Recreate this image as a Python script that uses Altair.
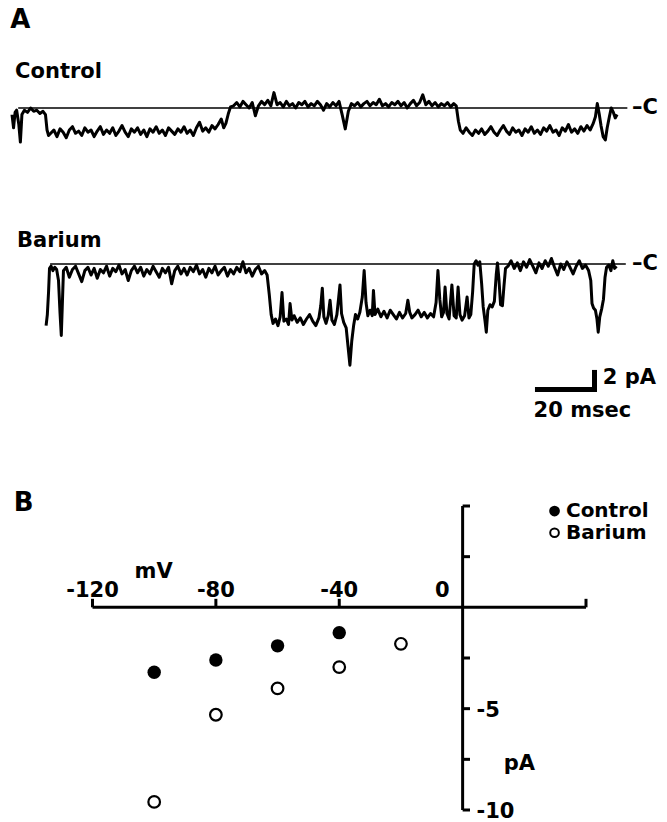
import altair as alt
import pandas as pd

FONT = "DejaVu Sans"

# ---------------- Panel A: single-channel current traces (time ms, current pA) -------------
control_trace = [
    (0.0, -0.6), (0.5, -1.8), (1.0, -0.4), (1.5, -0.2), (2.2, -1.5), (2.7, -3.1), (3.2, -0.6),
    (4.0, -0.2), (5.0, -0.4), (6.0, 0.0), (7.0, -0.3), (8.0, -0.2), (9.0, -0.5), (10.0, -0.3),
    (10.8, -0.6), (11.3, -2.0), (11.8, -2.5),
    (12.5, -2.3), (13.5, -2.0), (14.5, -2.6), (15.5, -1.9), (16.5, -2.2), (17.5, -2.7), (18.5, -2.0),
    (19.5, -1.7), (20.5, -2.3), (21.5, -2.1), (22.5, -2.5), (23.5, -1.8), (24.5, -2.2), (25.5, -2.0),
    (26.5, -2.6), (27.5, -2.1), (28.5, -1.7), (29.5, -2.4), (30.5, -2.0), (31.5, -2.3), (32.5, -1.8),
    (33.5, -2.5), (34.5, -2.1), (35.5, -1.6), (36.5, -2.2), (37.5, -2.6), (38.5, -1.9), (39.5, -2.2),
    (40.5, -1.8), (41.5, -2.4), (42.5, -2.0), (43.5, -2.6), (44.5, -1.9), (45.5, -2.2), (46.5, -1.7),
    (47.5, -2.3), (48.5, -2.0), (49.5, -2.5), (50.5, -1.8), (51.5, -2.1), (52.5, -2.4), (53.5, -1.9),
    (54.5, -2.2), (55.5, -1.7), (56.5, -2.3), (57.5, -2.0), (58.5, -2.5), (59.5, -1.8), (60.5, -1.3),
    (61.5, -2.1), (62.5, -1.8), (63.5, -2.2), (64.5, -1.6), (65.5, -1.9), (66.5, -1.5), (67.5, -1.0),
    (68.3, -1.8), (69.0, -1.4), (69.8, -0.5), (70.5, 0.1),
    (71.5, 0.2), (72.5, 0.5), (73.5, 0.1), (74.5, 0.6), (75.5, 0.3), (76.5, 0.0), (77.5, 0.5),
    (78.5, -0.7), (79.5, 0.2), (80.5, 0.6), (81.5, 0.3), (82.5, 0.7), (83.5, 0.2), (84.5, 1.4),
    (85.5, 0.3), (86.5, 0.5), (87.5, 0.1), (88.5, 0.6), (89.5, 0.2), (90.5, 0.4), (91.5, 0.0),
    (92.5, 0.5), (93.5, 0.3), (94.5, 0.6), (95.5, 0.1), (96.5, 0.4), (97.5, 0.2), (98.5, 0.6),
    (99.5, 0.3), (100.5, -0.2), (101.5, 0.4), (102.5, 0.1), (103.5, 0.5), (104.5, 0.2), (105.5, 0.6),
    (106.5, -0.6), (107.5, -1.9), (108.5, -0.3), (109.5, 0.4), (110.5, 0.2), (111.5, 0.5), (112.5, 0.1),
    (113.5, 0.4), (114.5, 0.6), (115.5, 0.2), (116.5, 0.5), (117.5, 0.3), (118.5, 0.8), (119.5, 0.2),
    (120.5, 0.4), (121.5, 0.1), (122.5, 0.5), (123.5, 0.3), (124.5, 0.6), (125.5, 0.2), (126.5, 0.5),
    (127.5, 0.0), (128.5, 0.4), (129.5, 0.7), (130.5, 0.2), (131.5, 0.5), (132.5, 1.2), (133.5, 0.3),
    (134.5, 0.6), (135.5, 0.2), (136.5, 0.5), (137.5, 0.1), (138.5, 0.4), (139.5, 0.2), (140.5, 0.5),
    (141.5, 0.1), (142.5, 0.4), (143.3, 0.2), (144.0, -1.2), (144.6, -2.0),
    (145.5, -2.3), (146.5, -1.8), (147.5, -2.2), (148.5, -2.5), (149.5, -2.0), (150.5, -2.3),
    (151.5, -1.9), (152.5, -2.4), (153.5, -2.1), (154.5, -1.7), (155.5, -2.2), (156.5, -2.5),
    (157.5, -2.0), (158.5, -1.6), (159.5, -2.1), (160.5, -2.4), (161.5, -1.8), (162.5, -2.2),
    (163.5, -2.0), (164.5, -2.5), (165.5, -1.9), (166.5, -2.2), (167.5, -1.7), (168.5, -2.3),
    (169.5, -2.0), (170.5, -2.4), (171.5, -1.8), (172.5, -2.1), (173.5, -1.6), (174.5, -2.2),
    (175.5, -2.0), (176.5, -2.5), (177.5, -1.8), (178.5, -2.1), (179.5, -1.5), (180.5, -2.2),
    (181.5, -1.9), (182.5, -2.3), (183.5, -1.7), (184.5, -2.1), (185.5, -1.6), (186.5, -2.0),
    (187.5, -1.4), (188.2, -0.8), (188.8, 0.4), (189.4, -0.5), (190.0, -1.6), (190.7, -2.6),
    (191.4, -2.9), (192.0, -1.8), (192.7, -0.8), (193.3, 0.0), (194.0, -0.4), (194.6, -0.9),
    (195.2, -0.6),
]

barium_trace = [
    (11.0, -5.6), (11.4, -4.6), (11.8, -2.5), (12.1, -0.4), (12.6, -0.2), (13.2, -0.6), (13.8, -0.3),
    (14.4, -0.5), (15.0, -1.5), (15.5, -4.5), (15.9, -6.5), (16.2, -4.0), (16.6, -0.6),
    (17.5, -0.3), (18.5, -1.2), (19.5, -0.5), (20.5, -0.2), (21.5, -0.9), (22.5, -1.6), (23.5, -0.6),
    (24.5, -0.3), (25.5, -1.0), (26.5, -0.4), (27.5, -1.3), (28.5, -0.5), (29.5, -0.8), (30.5, -0.2),
    (31.5, -1.1), (32.5, -0.4), (33.5, -0.7), (34.5, -0.1), (35.5, -0.9), (36.5, -0.5), (37.5, -1.5),
    (38.5, -0.6), (39.5, -0.2), (40.5, -0.8), (41.5, -0.3), (42.5, -1.1), (43.5, -0.5), (44.5, -0.9),
    (45.5, -0.2), (46.5, -0.7), (47.5, -1.2), (48.5, -0.4), (49.5, -0.8), (50.5, -0.3), (51.5, -1.8),
    (52.5, -0.6), (53.5, -0.2), (54.5, -0.9), (55.5, -0.4), (56.5, -1.0), (57.5, -0.3), (58.5, -0.7),
    (59.5, -0.1), (60.5, -0.9), (61.5, -0.5), (62.5, -1.2), (63.5, -0.4), (64.5, -0.8), (65.5, -0.2),
    (66.5, -1.0), (67.5, -0.6), (68.5, -0.3), (69.5, -1.1), (70.5, -0.5), (71.5, -0.9), (72.5, -0.3),
    (73.5, -0.7), (74.5, 0.2), (75.5, -0.8), (76.5, -0.4), (77.5, -1.1), (78.5, -0.5), (79.5, -0.2),
    (80.5, -0.9), (81.5, -0.6), (82.3, -1.0), (83.0, -2.8), (83.6, -4.6), (84.2, -5.4),
    (85.0, -5.0), (85.8, -5.6), (86.5, -4.8), (87.1, -2.6), (87.7, -5.2), (88.5, -5.0), (89.2, -5.5),
    (89.7, -3.6), (90.3, -5.1), (91.0, -4.7), (92.0, -5.3), (93.0, -4.9), (94.0, -5.5), (95.0, -5.0),
    (96.0, -4.6), (97.0, -5.2), (98.0, -5.6), (99.0, -4.9), (99.6, -3.8), (100.1, -2.2), (100.6, -4.8),
    (101.3, -5.4), (102.0, -4.7), (102.6, -3.3), (103.2, -5.1), (104.0, -5.5), (104.8, -4.6),
    (105.4, -3.0), (105.8, -1.9), (106.3, -4.5), (107.0, -5.3), (107.8, -5.8), (108.4, -7.5),
    (109.0, -9.2), (109.6, -7.0), (110.2, -5.6), (110.8, -4.6), (111.5, -5.0), (112.2, -4.4),
    (113.0, -3.0), (113.6, -0.6), (114.2, -3.5), (114.8, -4.7), (115.5, -4.2), (116.2, -4.7),
    (116.6, -2.4), (117.1, -4.6), (118.0, -4.1), (119.0, -4.8), (120.0, -4.3), (121.0, -4.9),
    (122.0, -4.2), (123.0, -4.6), (124.0, -5.0), (125.0, -4.4), (126.0, -4.9), (127.0, -4.5),
    (127.7, -3.3), (128.3, -4.4), (129.0, -4.9), (130.0, -4.6), (131.0, -4.2), (132.0, -4.8),
    (133.0, -4.4), (134.0, -4.9), (135.0, -4.5), (136.0, -4.8), (136.8, -3.5), (137.4, -0.6),
    (138.0, -3.2), (138.6, -4.8), (139.2, -4.4), (139.7, -2.1), (140.3, -4.5), (141.0, -5.0),
    (141.9, -1.9), (142.6, -4.7), (143.3, -4.9), (143.9, -2.1), (144.5, -4.6), (145.2, -5.1),
    (146.0, -4.7), (146.8, -3.0), (147.4, -4.9), (148.0, -4.6),
    (148.6, -2.5), (149.1, 0.0), (149.7, 0.3), (150.3, -0.1), (150.9, 0.2), (151.5, -1.8),
    (152.0, -3.9), (152.6, -5.2), (153.0, -6.2), (153.5, -4.2), (154.2, -3.7), (154.9, -3.9),
    (155.6, -3.4), (156.2, -1.0), (156.6, 0.1), (157.1, -1.5), (157.6, -3.7), (158.2, -3.8),
    (158.7, -2.0), (159.2, -0.4),
    (160.0, -0.2), (161.0, 0.3), (162.0, -0.4), (163.0, 0.1), (164.0, -0.6), (165.0, 0.2),
    (166.0, -0.3), (167.0, 0.4), (168.0, -0.2), (169.0, -0.8), (170.0, 0.1), (171.0, -0.4),
    (172.0, 0.3), (173.0, -0.2), (174.0, 0.5), (175.0, -0.3), (176.0, -1.0), (177.0, 0.0),
    (178.0, -0.5), (179.0, 0.2), (180.0, -0.3), (181.0, -0.9), (182.0, -0.2), (183.0, 0.3),
    (184.0, -0.4), (185.0, -0.1), (186.0, -0.6), (186.7, -1.5),
    (187.1, -3.6), (187.6, -4.0), (188.2, -4.2), (188.7, -5.0), (189.1, -6.2), (189.6, -4.8),
    (190.2, -4.1), (190.8, -3.2), (191.3, -1.2), (191.8, -0.3), (192.5, -0.1), (193.2, -0.6),
    (193.8, 0.3), (194.4, -0.4), (195.0, -0.2),
]

# closed-level (C) reference lines, ms
control_closed_span = [2.0, 198.5]
barium_closed_span = [12.3, 198.0]

# scale bars: 20 msec, 2 pA
scalebar_ms = 20
scalebar_pa = 2

# ---------------- Panel B: I-V relation ----------------
iv_control_mv = [-100, -80, -60, -40]
iv_control_pa = [-3.2, -2.6, -1.9, -1.25]
iv_barium_mv = [-100, -80, -60, -40, -20]
iv_barium_pa = [-9.6, -5.3, -4.0, -2.95, -1.8]

x_tick_labels = [-120, -80, -40]
x_tick_marks = [-120, -80, -40, 40]
y_tick_marks = [5, 2.5, -2.5, -5, -7.5, -10]
y_tick_labels = [-5, -10]

# ---------------- scales ----------------
def lin(domain, rng):
    return alt.Scale(domain=domain, range=rng, nice=False, zero=False)

t_scale = lin([0, 200], [12, 632])
ctrl_scale = lin([0, -5], [108, 163])
ba_scale = lin([0, -5], [264, 319])
mv_scale = lin([-120, 40], [92.5, 586])
pa_scale = lin([5, -10], [506, 810])

BLACK = "#000000"


def enc(xf, yf, xs, ys, **extra):
    return dict(x=alt.X(xf, type="quantitative", scale=xs, axis=None),
                y=alt.Y(yf, type="quantitative", scale=ys, axis=None), **extra)


def text_layer(x, y, label, xs, ys, size=21, align="left", baseline="alphabetic"):
    df = pd.DataFrame({"x": [x], "y": [y], "label": [label]})
    return alt.Chart(df).mark_text(font=FONT, fontWeight="bold", fontSize=size, align=align,
                                   baseline=baseline, color=BLACK).encode(
        **enc("x", "y", xs, ys), text="label:N")


def trace_layer(trace, ys):
    df = pd.DataFrame(trace, columns=["t", "i"])
    return alt.Chart(df).mark_line(color=BLACK, strokeWidth=3, strokeJoin="round").encode(
        **enc("t", "i", t_scale, ys))


def hrule(x1, x2, y, xs, ys, width):
    df = pd.DataFrame({"x": [x1], "x2": [x2], "y": [y]})
    return alt.Chart(df).mark_rule(color=BLACK, strokeWidth=width).encode(
        **enc("x", "y", xs, ys), x2="x2")


def vrule(x, y1, y2, xs, ys, width):
    df = pd.DataFrame({"x": [x], "y": [y1], "y2": [y2]})
    return alt.Chart(df).mark_rule(color=BLACK, strokeWidth=width).encode(
        **enc("x", "y", xs, ys), y2="y2")


layers = []

# Panel A
layers.append(text_layer(-0.6, 7.3, "A", t_scale, ctrl_scale, size=26))
layers.append(text_layer(1.0, 2.73, "Control", t_scale, ctrl_scale))
layers.append(hrule(control_closed_span[0], control_closed_span[1], 0, t_scale, ctrl_scale, 1.6))
layers.append(trace_layer(control_trace, ctrl_scale))
layers.append(text_layer(200, 0, "–C", t_scale, ctrl_scale, baseline="middle"))

layers.append(text_layer(1.6, 1.55, "Barium", t_scale, ba_scale))
layers.append(hrule(barium_closed_span[0], barium_closed_span[1], 0, t_scale, ba_scale, 1.6))
layers.append(trace_layer(barium_trace, ba_scale))
layers.append(text_layer(200, 0, "–C", t_scale, ba_scale, baseline="middle"))

# scale bars
sb_t_end = 188.7
sb_i = -11.4
layers.append(hrule(sb_t_end - scalebar_ms, sb_t_end, sb_i, t_scale, ba_scale, 5))
layers.append(vrule(sb_t_end - 0.8, sb_i - 0.23, sb_i - 0.23 + scalebar_pa, t_scale, ba_scale, 5))
layers.append(text_layer(190.6, -10.4, "2 pA", t_scale, ba_scale, baseline="middle"))
layers.append(text_layer(184.0, -13.9, "20 msec", t_scale, ba_scale, align="center"))

# Panel B
layers.append(text_layer(-145.5, 4.75, "B", mv_scale, pa_scale, size=26))
# axes
layers.append(hrule(-120, 40, 0, mv_scale, pa_scale, 3))
layers.append(vrule(0, 5, -10, mv_scale, pa_scale, 3))
xt = pd.DataFrame({"mv": x_tick_marks, "p0": [0.0] * len(x_tick_marks), "p1": [0.42] * len(x_tick_marks)})
layers.append(alt.Chart(xt).mark_rule(color=BLACK, strokeWidth=3).encode(
    **enc("mv", "p0", mv_scale, pa_scale), y2="p1"))
yt = pd.DataFrame({"m0": [0.0] * len(y_tick_marks), "m1": [2.4] * len(y_tick_marks), "pa": y_tick_marks})
layers.append(alt.Chart(yt).mark_rule(color=BLACK, strokeWidth=3).encode(
    **enc("m0", "pa", mv_scale, pa_scale), x2="m1"))
xl = pd.DataFrame({"mv": x_tick_labels, "pa": [0.5] * len(x_tick_labels),
                   "label": [str(v) for v in x_tick_labels]})
layers.append(alt.Chart(xl).mark_text(font=FONT, fontWeight="bold", fontSize=21, align="center",
                                      baseline="alphabetic", color=BLACK).encode(
    **enc("mv", "pa", mv_scale, pa_scale), text="label:N"))
layers.append(text_layer(-4.2, 0.5, "0", mv_scale, pa_scale, align="right"))
layers.append(text_layer(-100.2, 1.45, "mV", mv_scale, pa_scale, align="center"))
yl = pd.DataFrame({"mv": [4.5] * len(y_tick_labels), "pa": [v - 0.1 for v in y_tick_labels],
                   "label": [str(v) for v in y_tick_labels]})
layers.append(alt.Chart(yl).mark_text(font=FONT, fontWeight="bold", fontSize=21, align="left",
                                      baseline="middle", color=BLACK).encode(
    **enc("mv", "pa", mv_scale, pa_scale), text="label:N"))
layers.append(text_layer(13.3, -7.72, "pA", mv_scale, pa_scale, baseline="middle"))

# data points
dc = pd.DataFrame({"mv": iv_control_mv, "pa": iv_control_pa})
db = pd.DataFrame({"mv": iv_barium_mv, "pa": iv_barium_pa})
layers.append(alt.Chart(dc).mark_point(shape="circle", filled=True, size=180, color=BLACK, opacity=1).encode(
    **enc("mv", "pa", mv_scale, pa_scale)))
layers.append(alt.Chart(db).mark_point(shape="circle", filled=False, size=135, strokeWidth=2.2,
                                       color=BLACK, opacity=1).encode(
    **enc("mv", "pa", mv_scale, pa_scale)))

# legend
lgc = pd.DataFrame({"mv": [29.8], "pa": [4.75]})
lgb = pd.DataFrame({"mv": [29.8], "pa": [3.68]})
layers.append(alt.Chart(lgc).mark_point(shape="circle", filled=True, size=115, color=BLACK, opacity=1).encode(
    **enc("mv", "pa", mv_scale, pa_scale)))
layers.append(alt.Chart(lgb).mark_point(shape="circle", filled=False, size=75, strokeWidth=2,
                                        color=BLACK, opacity=1).encode(
    **enc("mv", "pa", mv_scale, pa_scale)))
layers.append(text_layer(33.5, 4.75, "Control", mv_scale, pa_scale, size=20, baseline="middle"))
layers.append(text_layer(33.5, 3.68, "Barium", mv_scale, pa_scale, size=20, baseline="middle"))

chart = alt.layer(*layers).resolve_scale(x="independent", y="independent").properties(
    width=667, height=822, padding=0, autosize=alt.AutoSizeParams(type="none"),
    background="white",
).configure_view(stroke=None)

chart.save("out.html", embed_options={"renderer": "svg", "actions": False})
